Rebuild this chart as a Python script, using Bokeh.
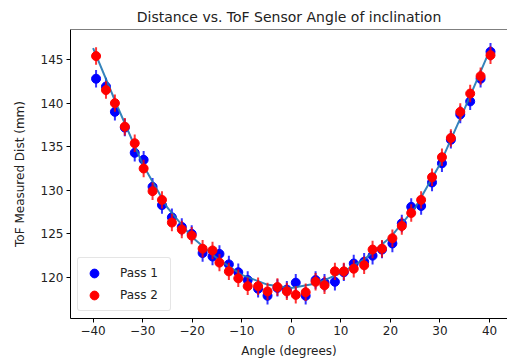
from bokeh.plotting import figure
from bokeh.models import Range1d, FixedTicker, Span, Legend, LegendItem, ColumnDataSource
from bokeh.embed import file_html
from bokeh.resources import INLINE

# ---- data ----
angles = [-39.4, -37.4, -35.6, -33.6, -31.6, -29.8, -28.0, -26.1, -24.1, -22.1,
          -20.1, -17.9, -15.9, -14.5, -12.6, -10.7, -8.8, -6.7, -4.8, -2.8,
          -0.9, 0.9, 2.9, 4.9, 6.7, 8.8, 10.6, 12.6, 14.7, 16.4,
          18.3, 20.4, 22.3, 24.2, 26.2, 28.4, 30.4, 32.2, 34.1, 36.1,
          38.2, 40.2]
pass1 = [142.8, 141.9, 139.0, 137.2, 134.3, 133.5, 130.4, 128.3, 126.9, 125.8,
         125.0, 122.8, 122.4, 122.7, 121.5, 120.6, 119.7, 118.7, 117.9, 118.8,
         118.6, 119.4, 117.9, 119.7, 119.4, 119.5, 120.6, 121.6, 121.8, 122.5,
         123.2, 123.9, 126.2, 128.1, 128.2, 130.9, 133.1, 135.8, 138.7, 140.2,
         142.8, 145.9]
pass2 = [145.4, 141.5, 140.0, 137.3, 135.4, 132.5, 129.9, 128.9, 126.3, 125.5,
         124.8, 123.3, 123.1, 121.7, 120.7, 119.9, 119.0, 119.0, 118.4, 118.9,
         118.4, 118.0, 118.3, 119.5, 119.1, 120.7, 120.7, 121.0, 121.4, 123.2,
         123.3, 124.5, 125.9, 127.4, 128.9, 131.5, 133.8, 136.0, 139.0, 141.1,
         143.1, 145.5]
err1 = 1.0
err2 = 1.0

fit_angles = [-40, -35, -30, -25, -20, -15, -10, -5, 0, 5, 10, 15, 20, 25, 30, 35, 40]
fit_dist = [146.3, 139.5, 133.0, 128.0, 124.6, 122.2, 120.3, 119.2, 118.8,
            119.3, 120.5, 122.2, 124.6, 128.0, 133.0, 139.4, 146.0]

x_ticks = [-40, -30, -20, -10, 0, 10, 20, 30, 40]
y_ticks = [120, 125, 130, 135, 140, 145]
series_labels = ["Pass 1", "Pass 2"]

FONT = "DejaVu Sans"
BLUE = "#0000ff"
RED = "#ff0000"
FIT = "#1f77b4"
TXT = "#222222"

p = figure(width=507, height=364, output_backend="svg", toolbar_location=None,
           x_range=Range1d(-44.56, 43.63), y_range=Range1d(115.29, 148.45),
           min_border_left=70, min_border_right=0, min_border_top=29,
           min_border_bottom=46)
p.outline_line_color = None
p.background_fill_color = "white"
p.border_fill_color = "white"
p.grid.visible = False

p.title.text = "Distance vs. ToF Sensor Angle of inclination"
p.title.text_font = FONT
p.title.text_font_size = "14px"
p.title.text_font_style = "normal"
p.title.text_color = TXT
p.title.align = "center"
p.title.standoff = 9

for ax in (p.xaxis[0], p.yaxis[0]):
    ax.axis_line_color = "black"
    ax.axis_line_width = 1
    ax.major_tick_line_color = "black"
    ax.major_tick_in = 0
    ax.major_tick_out = 4
    ax.minor_tick_line_color = None
    ax.major_label_text_font = FONT
    ax.major_label_text_font_size = "12px"
    ax.major_label_text_color = TXT
    ax.axis_label_text_font = FONT
    ax.axis_label_text_font_size = "12px"
    ax.axis_label_text_font_style = "normal"
    ax.axis_label_text_color = TXT
    ax.major_label_standoff = 3

p.xaxis.ticker = FixedTicker(ticks=x_ticks)
p.yaxis.ticker = FixedTicker(ticks=y_ticks)
p.xaxis.major_label_overrides = {t: (("\u2212" + str(abs(t))) if t < 0 else str(t)) for t in x_ticks}
p.xaxis.axis_label = "Angle (degrees)"
p.yaxis.axis_label = "ToF Measured Dist (mm)"
p.xaxis.axis_label_standoff = 6
p.yaxis.axis_label_standoff = 11

# top spine
p.add_layout(Span(location=148.45, dimension="width", line_color="black", line_width=1))

src1 = ColumnDataSource(dict(x=angles, y=pass1))
src2 = ColumnDataSource(dict(x=angles, y=pass2))

# Pass 1
lo1 = [v - err1 for v in pass1]
hi1 = [v + err1 for v in pass1]
p.segment(x0=angles, y0=lo1, x1=angles, y1=hi1, line_color=BLUE, line_width=2, line_alpha=0.8)
s1 = p.scatter(x="x", y="y", source=src1, size=9, marker="circle", fill_color=BLUE, line_color=BLUE)

# fit line
p.line(x=fit_angles, y=fit_dist, line_color=FIT, line_width=2, line_alpha=0.9)

# Pass 2
lo2 = [v - err2 for v in pass2]
hi2 = [v + err2 for v in pass2]
p.segment(x0=angles, y0=lo2, x1=angles, y1=hi2, line_color=RED, line_width=2, line_alpha=0.8)
s2 = p.scatter(x="x", y="y", source=src2, size=9, marker="circle", fill_color=RED, line_color=RED)

legend = Legend(items=[LegendItem(label=series_labels[0], renderers=[s1]),
                       LegendItem(label=series_labels[1], renderers=[s2])],
                location="bottom_left")
legend.margin = 7
legend.padding = 4
legend.spacing = -4
legend.glyph_width = 24
legend.glyph_height = 22
legend.label_height = 18
legend.label_width = 46
legend.label_standoff = 14
legend.label_text_font = FONT
legend.label_text_font_size = "12px"
legend.label_text_color = TXT
legend.border_line_color = "#cccccc"
legend.border_line_width = 1
legend.background_fill_color = "white"
legend.background_fill_alpha = 0.8
if "border_radius" in Legend.properties():
    legend.border_radius = 3
p.add_layout(legend)

open("out.html", "w").write(file_html(p, INLINE))
